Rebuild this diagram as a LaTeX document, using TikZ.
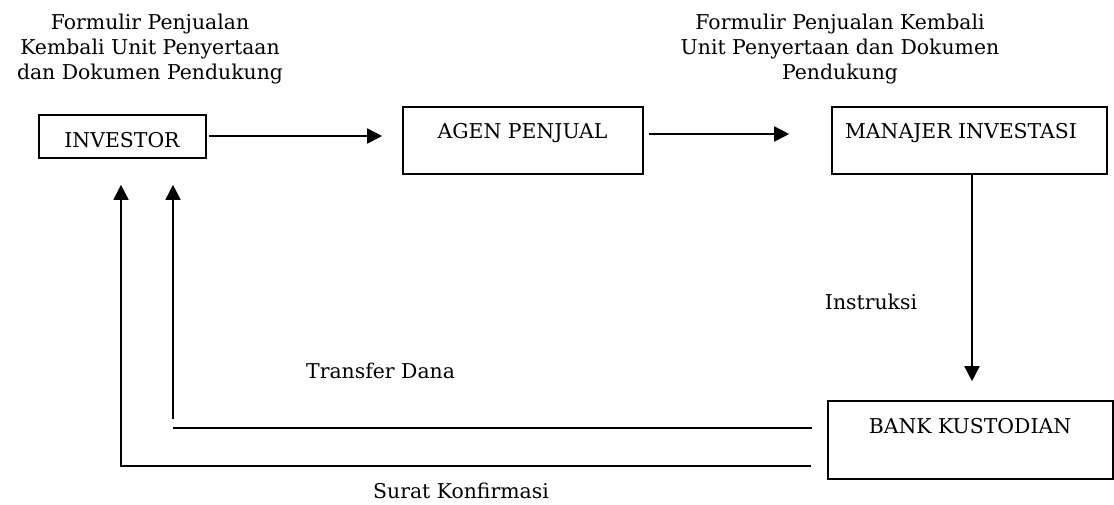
\documentclass[tikz,border=0pt]{standalone}
\usepackage{fontspec}
\setmainfont{DejaVu Serif}
\usetikzlibrary{arrows.meta}
\begin{document}
\begin{tikzpicture}[x=1pt,y=-1pt,
  txt/.style={inner sep=0pt,font=\fontsize{20.4}{25}\selectfont,align=center},
  boxnode/.style={draw,line width=1.6pt,inner sep=0pt,minimum width=#1},
  link/.style={line width=1.6pt},
  arr/.style={line width=1.6pt,-{Triangle[length=15pt,width=15pt]}}]
\useasboundingbox (0,0) rectangle (1114,504);
% boxes
\node[boxnode=167pt,minimum height=43pt] (inv) at (122.5,136.5) {};
\node[boxnode=240pt,minimum height=67pt] (agen) at (523,140.5) {};
\node[boxnode=275pt,minimum height=67pt] (mgr) at (969.5,140.5) {};
\node[boxnode=285pt,minimum height=78pt] (bank) at (970.5,440) {};
% box texts
\node[txt,anchor=base] (invt) at (122,147) {INVESTOR};
\node[txt,anchor=base] (agent) at (522.5,138) {AGEN PENJUAL};
\node[txt,anchor=base] (mgrt) at (961,138) {MANAJER INVESTASI};
\node[txt,anchor=base] (bankt) at (970,433) {BANK KUSTODIAN};
% labels
\node[txt,anchor=base] (l1) at (150,79) {Formulir Penjualan\\Kembali Unit Penyertaan\\dan Dokumen Pendukung};
\node[txt,anchor=base] (l2) at (840,79) {Formulir Penjualan Kembali\\Unit Penyertaan dan Dokumen\\Pendukung};
\node[txt,anchor=base] (l3) at (871,309) {Instruksi};
\node[txt,anchor=base west] (l4) at (306,378) {Transfer Dana};
\node[txt,anchor=base] (l5) at (461,498) {Surat Konfirmasi};
% connectors
\draw[arr,shorten <=2pt,shorten >=20pt] ([yshift=0.5pt]inv.east) -- ([yshift=0.5pt]inv.east -| agen.west);
\draw[arr,shorten <=5pt,shorten >=42pt] ([yshift=6.5pt]agen.east) -- ([yshift=6.5pt]mgr.west);
\draw[arr,shorten >=19pt] ([xshift=2.5pt]mgr.south) -- ([xshift=2.5pt]mgr.south |- bank.north);
\coordinate (t1) at (173,428);
\coordinate (t2) at (173,419);
\coordinate (s1) at (121,466);
\draw[link] ([yshift=12pt,xshift=-15pt]bank.west) -- (t1);
\draw[arr,shorten >=26pt] (t2) -- ([xshift=50.5pt]inv.south);
\draw[arr,shorten >=26pt] ([yshift=-26pt,xshift=-16pt]bank.west) -- (s1) -- (s1 |- inv.south);
\end{tikzpicture}
\end{document}
